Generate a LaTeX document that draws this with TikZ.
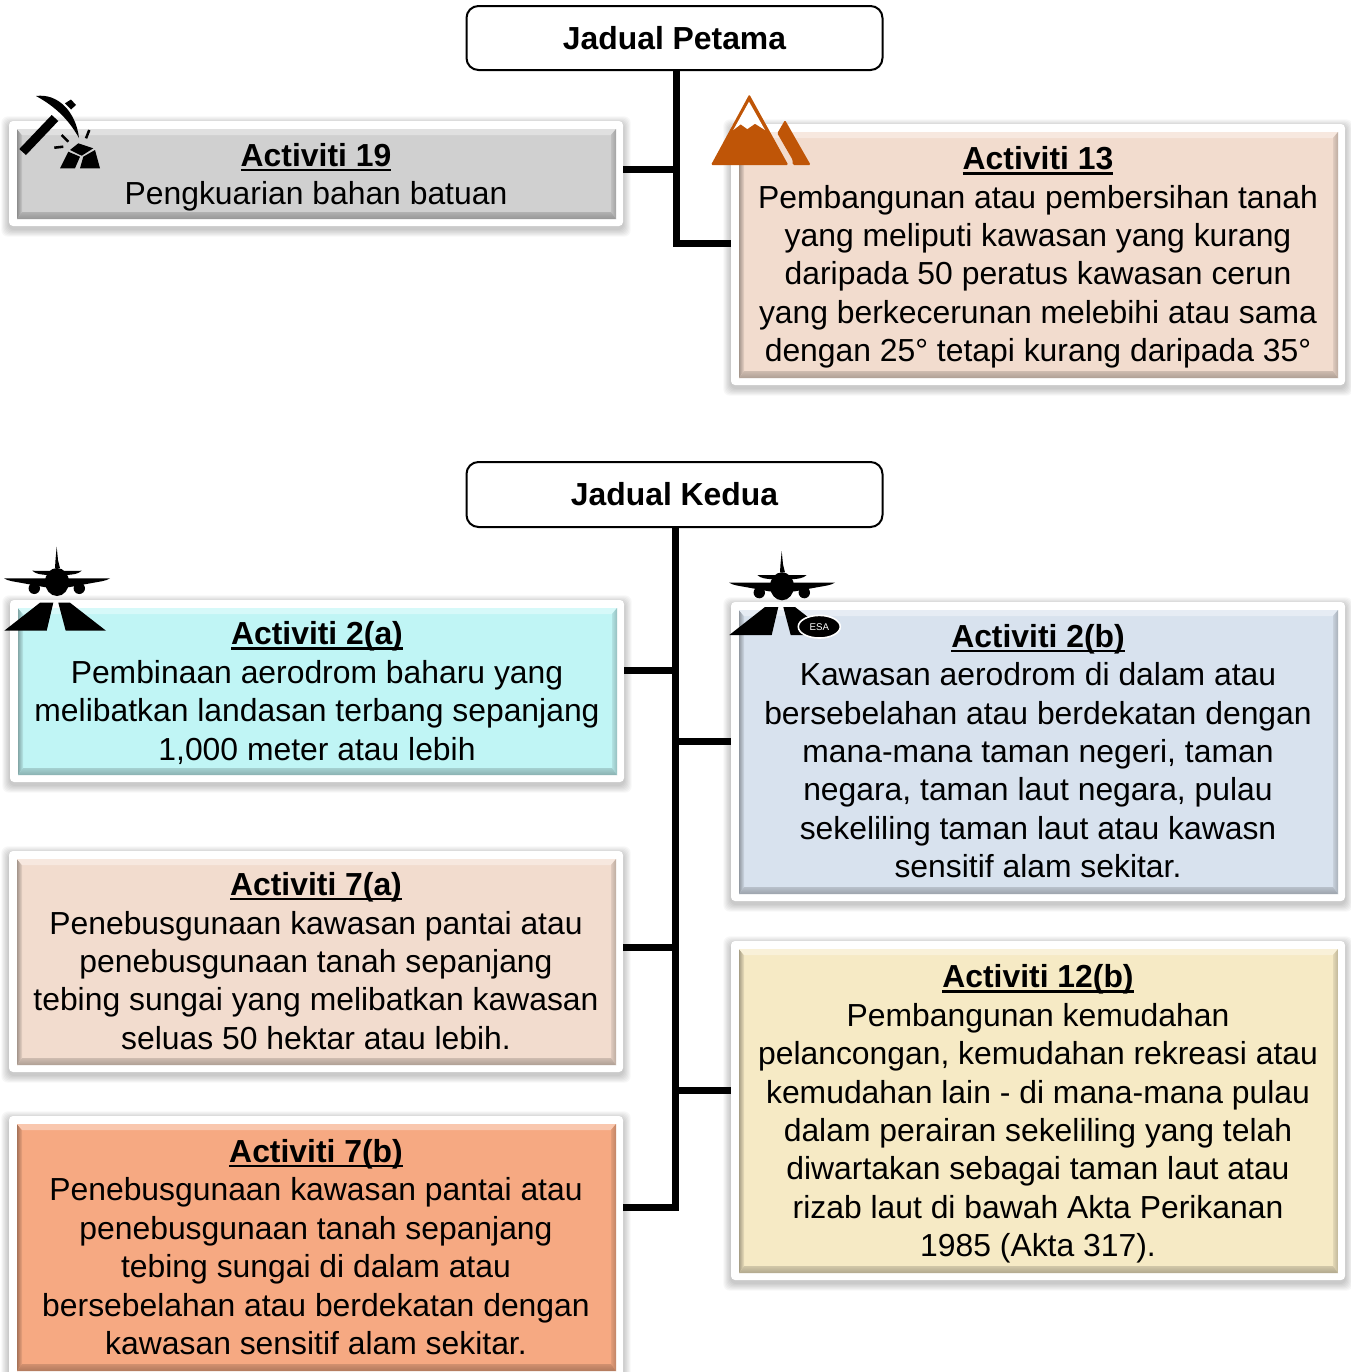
\documentclass[tikz,border=0pt]{standalone}
\usetikzlibrary{shapes.geometric}
\usepackage{fontspec}
\setmainfont{Liberation Sans}
\definecolor{cgrey}{HTML}{D0D0D0}
\definecolor{cpeach}{HTML}{F2DCCE}
\definecolor{ccyan}{HTML}{C0F5F5}
\definecolor{cblue}{HTML}{D8E2EE}
\definecolor{cyellow}{HTML}{F6EAC5}
\definecolor{corange}{HTML}{F6A982}
\definecolor{cmount}{HTML}{BF5507}
\newcommand\titl[1]{\setbox0\hbox{\bfseries #1}\rlap{\rule[-3.6pt]{\wd0}{1.7pt}}\box0}
\tikzset{
  cardtext/.style={inner sep=0pt,align=center,font=\fontsize{23.9}{28.8}\selectfont},
  header/.style={draw=black,line width=1.5pt,rounded corners=9pt,fill=white,align=center,font=\fontsize{23.9}{28.8}\selectfont\bfseries,inner sep=0pt},
  trunk/.style={line width=5.25pt,line cap=butt,line join=miter,black},
  icon/.style={fill=black,draw=none}
}
% [text shift], name, x0,y0,x1,y1 (white frame), colour, text
\newcommand\cardbox[8][0]{%
  \foreach \s in {1,...,7}{\fill[black,opacity=0.03,rounded corners=5pt]
     ({#3-\s*1.1},{#4+3-\s*1.1}) rectangle ({#5+\s*1.1},{#6+3+\s*1.1});}
  \fill[white,rounded corners=3pt] (#3,#4) rectangle (#5,#6);
  \fill[#7] ({#3+8},{#4+8}) rectangle ({#5-7},{#6-7});
  % bevels
  \shade[left color=#7!68!black,right color=#7!96!black]
     ({#3+8},{#4+8}) -- ({#3+13},{#4+14}) -- ({#3+13},{#6-14}) -- ({#3+8},{#6-7}) -- cycle;
  \fill[#7!65!white]
     ({#3+8},{#4+8}) -- ({#5-7},{#4+8}) -- ({#5-12},{#4+14}) -- ({#3+13},{#4+14}) -- cycle;
  \shade[left color=#7!92!black,right color=#7!78!black]
     ({#5-12},{#4+14}) -- ({#5-7},{#4+8}) -- ({#5-7},{#6-7}) -- ({#5-12},{#6-14}) -- cycle;
  \shade[top color=#7!85!black,middle color=#7!58!black,bottom color=#7!72!black]
     ({#3+8},{#6-7}) -- ({#3+13},{#6-14}) -- ({#5-12},{#6-14}) -- ({#5-7},{#6-7}) -- cycle;
  \node[cardtext,minimum width={(#5-#3)*0.75pt},minimum height={(#6-#4)*0.75pt}] (#2) at ({(#3+#5)/2},{(#4+#6)/2+#1}) {#8};
}
% plane at offset
\newcommand\planeicon[2]{%
  \begin{scope}[shift={(#1,#2)}]
  \fill[icon] (56.7,546.7) -- (58,560) -- (60,568) -- (55,568) -- (55.5,560) -- cycle;
  \fill[icon] (32.3,570.7) .. controls (40,571) and (48,570.7) .. (56,570.7) .. controls (66,570.7) and (74,571) .. (81.7,570.7) .. controls (78,574) and (74,574.5) .. (66,575) -- (48,575) .. controls (40,574.5) and (36,574) .. (32.3,570.7) -- cycle;
  \fill[icon] (4,578.3) -- (110,578.3) .. controls (106,581) and (100,581.5) .. (92,583) -- (70,587) -- (44,587) -- (22,583) .. controls (14,581.5) and (8,581) .. (4,578.3) -- cycle;
  \fill[icon] (57,582) ellipse [x radius=12,y radius=14];
  \fill[icon] (34.3,588.3) circle [radius=5.7];
  \fill[icon] (79.3,588.3) circle [radius=5.7];
  \fill[icon] (40,602.7) -- (53.3,602.7) -- (46.7,630.7) -- (4.3,630.7) -- cycle;
  \fill[icon] (58.3,602.7) -- (70,602.7) -- (106,630.7) -- (65.7,630.7) -- cycle;
  \end{scope}
}
\begin{document}
\begin{tikzpicture}[x=0.75pt,y=-0.75pt]
\clip (0,0) rectangle (1351,1372);
\fill[white] (0,0) rectangle (1351,1372);

\cardbox[4]{a19}{9}{121}{623}{226}{cgrey}{\titl{Activiti 19}\\Pengkuarian bahan batuan}
\cardbox[3]{a13}{731}{124}{1345}{385}{cpeach}{\titl{Activiti 13}\\Pembangunan atau pembersihan tanah\\yang meliputi kawasan yang kurang\\daripada 50 peratus kawasan cerun\\yang berkecerunan melebihi atau sama\\dengan 25° tetapi kurang daripada 35°}
\cardbox[2]{a2a}{10}{600}{624}{782}{ccyan}{\titl{Activiti 2(a)}\\Pembinaan aerodrom baharu yang\\melibatkan landasan terbang sepanjang\\1,000 meter atau lebih}
\cardbox[-0.5]{a2b}{731}{602}{1345}{901}{cblue}{\titl{Activiti 2(b)}\\Kawasan aerodrom di dalam atau\\bersebelahan atau berdekatan dengan\\mana-mana taman negeri, taman\\negara, taman laut negara, pulau\\sekeliling taman laut atau kawasn\\sensitif alam sekitar.}
\cardbox[-0.5]{a7a}{9}{851}{623}{1072}{cpeach}{\titl{Activiti 7(a)}\\Penebusgunaan kawasan pantai atau\\penebusgunaan tanah sepanjang\\tebing sungai yang melibatkan kawasan\\seluas 50 hektar atau lebih.}
\cardbox[3.5]{a12b}{731}{941}{1345}{1280}{cyellow}{\titl{Activiti 12(b)}\\Pembangunan kemudahan\\pelancongan, kemudahan rekreasi atau\\kemudahan lain - di mana-mana pulau\\dalam perairan sekeliling yang telah\\diwartakan sebagai taman laut atau\\rizab laut di bawah Akta Perikanan\\1985 (Akta 317).}
\cardbox{a7b}{9}{1116}{623}{1378}{corange}{\titl{Activiti 7(b)}\\Penebusgunaan kawasan pantai atau\\penebusgunaan tanah sepanjang\\tebing sungai di dalam atau\\bersebelahan atau berdekatan dengan\\kawasan sensitif alam sekitar.}

\node[header,minimum width=312pt,minimum height=48pt] (j1) at (674.5,38) {Jadual Petama};
\node[header,minimum width=312pt,minimum height=48.75pt] (j2) at (674.5,494.5) {\raisebox{-0.6pt}{Jadual Kedua}};

% connectors, Jadual Petama
\draw[trunk] (a19.east |- 0,169) -- (676,169);
\draw[trunk] (676,70) -- (676,243) -- (a13.west |- 0,243);
% connectors, Jadual Kedua
\draw[trunk] (675,527) -- (675,1207) -- (a7b.east |- 0,1207);
\draw[trunk] (a2a.east |- 0,670) -- (675,670);
\draw[trunk] (a7a.east |- 0,947) -- (675,947);
\draw[trunk] (675,741) -- (a2b.west |- 0,741);
\draw[trunk] (675,1090) -- (a12b.west |- 0,1090);

% pickaxe icon
\fill[icon] (19.3,149) -- (51.7,115) -- (58.3,121) -- (26,155) -- cycle;
\fill[icon] (36,96) .. controls (58,93) and (76,112) .. (79,138) .. controls (70,122) and (58,108) .. (36,96) -- cycle;
\fill[icon] (65,103.3) -- (71,99.5) -- (76,105) -- (71,109.5) -- cycle;
\fill[icon] (70,150) -- (78.3,143.3) -- (93.3,148.3) -- (81.7,155.7) -- cycle;
\fill[icon] (60,168.3) -- (68.3,151.7) -- (80,156.7) -- (75,168.3) -- cycle;
\fill[icon] (80,168.3) -- (83.3,156.7) -- (95,150) -- (100,168.3) -- cycle;
\draw[black,line width=1.9pt] (61.7,135) -- (68.3,141.7);
\draw[black,line width=1.9pt] (54.3,147.7) -- (63.3,146.7);
\draw[black,line width=1.9pt] (89.3,130) -- (86,138.3);

% mountain icon
\fill[cmount,rounded corners=1pt] (749.3,94.3) -- (711,165) -- (788.3,165) -- cycle;
\fill[white] (749,101.7) -- (733.3,130) -- (740.7,124.3) -- (747.3,129) -- (755,123.7) -- (765,130) -- cycle;
\fill[cmount,rounded corners=1pt] (785,120) -- (777.3,133.3) -- (792.7,160) -- (792.7,165) -- (810.7,165) -- cycle;

\planeicon{0}{0}
\planeicon{725}{4.3}
\node[ellipse,fill=black,draw=white,line width=1.2pt,minimum width=31.5pt,minimum height=17pt,inner sep=0pt,text=white,font=\fontsize{7.3}{8}\selectfont] (esa) at (819.3,626.7) {ESA};
\end{tikzpicture}
\end{document}
